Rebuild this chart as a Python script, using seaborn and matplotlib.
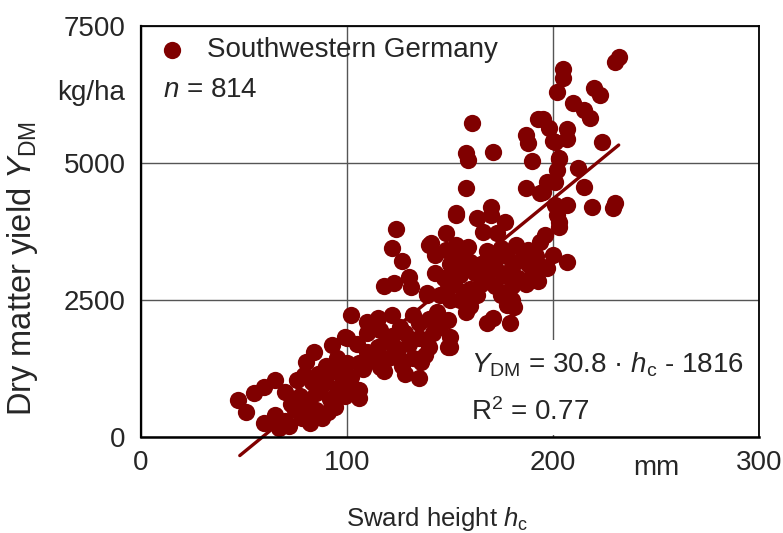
import numpy as np
import pandas as pd
import matplotlib
matplotlib.use("Agg")
import matplotlib.pyplot as plt
import seaborn as sns

# Sward height (mm) and dry matter yield (kg/ha)
sward_height = [
    232, 230, 205, 205, 202, 220, 223, 210, 215, 218, 195, 198, 207, 207, 200,
    224, 203, 202, 212, 197, 201, 195, 215, 201, 207, 202, 219, 230, 229,
    161, 158, 159, 171, 158, 187, 188, 190, 193, 201, 203, 187, 194,
    153, 163, 170, 170, 177, 166, 173, 153, 159, 196, 194, 203, 207, 200, 197,
    180, 178, 168, 171, 179, 181, 175, 158, 149, 135, 203,
    168, 175, 182, 188, 192, 185, 178, 170, 165, 172, 180, 188, 195, 190, 183,
    176, 168, 162, 165, 172, 180, 187, 193, 160, 158, 155,
    124, 122, 127, 130, 118, 123, 131, 148, 141, 143, 148, 152, 153, 143, 139,
    152, 149, 140,
    102, 100, 110, 115, 122, 132, 116, 126, 135, 139, 145, 144, 149, 150, 150,
    136, 106, 116, 126, 106, 106, 97,
    105, 110, 115, 120, 125, 130, 135, 140, 138, 132, 127, 120, 113, 108, 118,
    128, 142, 145, 140, 128, 122, 110,
    47, 51, 55, 60, 65, 70, 76, 79, 80, 84, 93, 99, 60, 65, 67, 91, 81,
    70, 72, 75, 78, 80, 82, 85, 85, 88, 88, 90, 92, 94, 95, 96, 98, 99, 100,
    102, 100, 86, 83, 77, 73, 95, 90,
    155, 160, 163, 157, 150, 152, 147, 155, 150, 160,
]
dm_yield = [
    6930, 6840, 6720, 6550, 6300, 6370, 6240, 6100, 5970, 5820, 5800, 5640, 5620, 5440, 5400,
    5380, 5090, 4870, 4910, 4650, 4650, 4470, 4560, 4230, 4230, 4050, 4200, 4270, 4180,
    5730, 5180, 5050, 5200, 4540, 5510, 5370, 5040, 5800, 5380, 5070, 4540, 4450,
    4090, 4000, 4200, 4050, 3920, 3740, 3720, 3500, 3470, 3690, 3560, 3920, 3190, 3320, 3080,
    2500, 2410, 2080, 2170, 2080, 2370, 2590, 2280, 1640, 1080, 3830,
    3400, 3450, 3500, 3420, 3300, 3250, 3300, 3250, 3150, 3100, 3100, 3150, 3100, 2950, 2900,
    2950, 2950, 3000, 2800, 2750, 2750, 2800, 2850, 2700, 3100, 3300,
    3800, 3450, 3210, 2920, 2760, 2810, 2740, 3720, 3540, 3320, 3410, 3430, 4050, 2990, 2630,
    3050, 2720, 3500,
    2230, 1810, 2100, 2170, 2230, 2230, 1950, 2010, 2080, 2590, 2590, 2280, 2140, 1830, 1640,
    1370, 1350, 1280, 1400, 860, 710, 1350,
    1700, 1550, 1650, 1750, 1600, 1700, 1800, 1650, 1500, 1450, 1300, 1450, 1400, 1250, 1200,
    1150, 1900, 2000, 2150, 1900, 1850, 1900,
    680, 460, 800, 910, 1040, 820, 1040, 1130, 1370, 1550, 1680, 1830, 260, 400, 160, 460, 400,
    300, 200, 500, 350, 650, 250, 800, 500, 950, 350, 1100, 700, 550, 900, 1200, 1050, 750, 1350,
    1100, 950, 1150, 1000, 750, 600, 1450, 1300,
    2500, 2400, 2600, 2650, 2500, 2800, 2900, 2950, 3150, 3200,
]

# regression shown in the chart
slope = 30.8
intercept = -1816
fit_range = [48, 232]

red = "#800000"
fs = 20

df = pd.DataFrame({"h": sward_height, "y": dm_yield})

sns.set_theme(style="white")
plt.rcParams["font.family"] = ["Liberation Sans", "DejaVu Sans"]
plt.rcParams["mathtext.fontset"] = "custom"
plt.rcParams["mathtext.rm"] = "Liberation Sans"
plt.rcParams["mathtext.it"] = "Liberation Sans:italic"

fig = plt.figure(figsize=(7.83, 5.33), dpi=100)
ax = fig.add_axes([0.180, 0.180, 0.789, 0.771])

ax.set_axisbelow(True)
ax.grid(True, color="#555555", linewidth=1.0)

sns.scatterplot(data=df, x="h", y="y", color=red, s=155, linewidth=0,
                label="Southwestern Germany", ax=ax, zorder=1)

xs = np.array(fit_range)
ax.plot(xs, slope * xs + intercept, color=red, linewidth=2.4, clip_on=False, zorder=1.5)

ax.set_xlim(0, 300)
ax.set_ylim(0, 7500)
ax.set_xticks([0, 100, 200, 300])
ax.set_yticks([0, 2500, 5000, 7500])
ax.tick_params(axis="x", labelsize=fs, direction="in", length=5, pad=9, color="#555555")
ax.tick_params(axis="y", labelsize=fs, direction="in", length=0, pad=11)

for side in ["left", "bottom", "top", "right"]:
    ax.spines[side].set_color("black")
    ax.spines[side].set_linewidth(1.3)
ax.spines["bottom"].set_linewidth(1.8)
ax.spines["left"].set_linewidth(1.6)

ax.set_xlabel("Sward height $h_{\\mathrm{c}}$", fontsize=18.5)
ax.xaxis.set_label_coords(0.48, -0.165)
ax.set_ylabel("Dry matter yield $Y_{\\mathrm{DM}}$", fontsize=23.5)
ax.yaxis.set_label_coords(-0.163, 0.41)

ax.text(-0.026, 0.838, "kg/ha", transform=ax.transAxes, fontsize=fs,
        ha="right", va="center")
ax.text(0.835, -0.075, "mm", transform=ax.transAxes, fontsize=fs,
        ha="center", va="center")
ax.text(0.036, 0.845, "$n$ = 814", transform=ax.transAxes, fontsize=fs,
        ha="left", va="center")

ax.text(0.534, 0.175, "$Y_{\\mathrm{DM}}$ = 30.8 · $h_{\\mathrm{c}}$ - 1816",
        transform=ax.transAxes, fontsize=fs, ha="left", va="center", zorder=2,
        bbox=dict(facecolor="white", edgecolor="none", pad=8))
ax.text(0.534, 0.06, "R$^2$ = 0.77", transform=ax.transAxes, fontsize=fs,
        ha="left", va="center", zorder=2,
        bbox=dict(facecolor="white", edgecolor="none", pad=6))

leg = ax.legend(loc="upper left", bbox_to_anchor=(-0.003, 1.02), frameon=False,
                fontsize=fs, handlelength=1.0, handletextpad=0.75,
                borderaxespad=0.3, markerscale=1.0)

fig.savefig("out.png", dpi=100)
